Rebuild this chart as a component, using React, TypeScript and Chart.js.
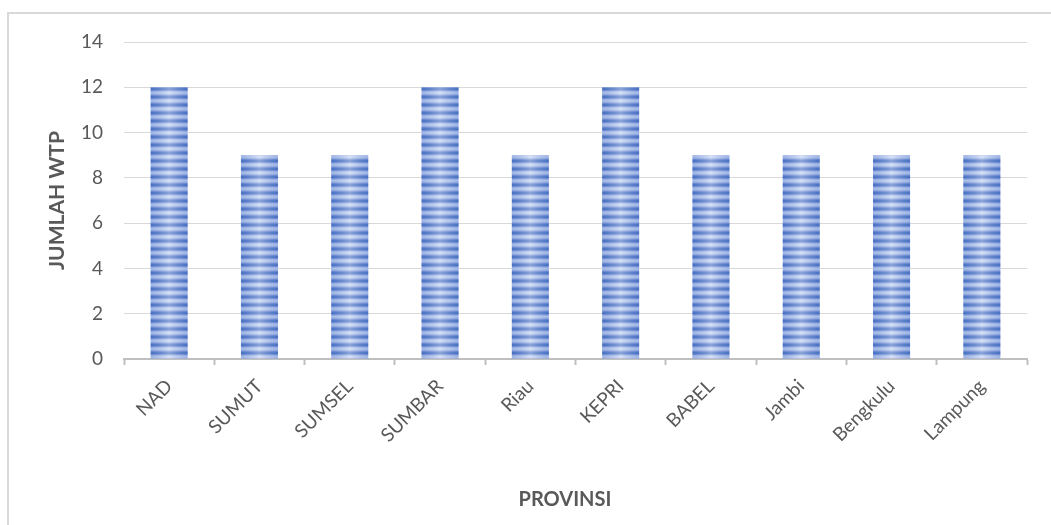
import React, { useEffect, useRef } from "react";
import { Chart, registerables } from "chart.js";

Chart.register(...registerables);

const categories = ["NAD", "SUMUT", "SUMSEL", "SUMBAR", "Riau", "KEPRI", "BABEL", "Jambi", "Bengkulu", "Lampung"];
const values = [12, 9, 9, 12, 9, 12, 9, 9, 9, 9];
const yTicks = [0, 2, 4, 6, 8, 10, 12, 14];
const xTitle = "PROVINSI";
const yTitle = "JUMLAH WTP";

const FONT = "Lato, 'Open Sans', sans-serif";
const TEXT = "#595959";

function makeStripePattern(ctx: CanvasRenderingContext2D): CanvasPattern | string {
  const c = document.createElement("canvas");
  c.width = 4;
  c.height = 8;
  const p = c.getContext("2d");
  if (!p) return "#7f9fdc";
  const rows = ["#4f76c6", "#4a72c4", "#7896d6", "#a9bdea", "#c3d2f2", "#bccbef", "#9fb5e6", "#6f8fd2"];
  rows.forEach((col, i) => {
    p.fillStyle = col;
    p.fillRect(0, i, 4, 1);
  });
  return ctx.createPattern(c, "repeat") || "#7f9fdc";
}

const barShine = {
  id: "barShine",
  afterDatasetsDraw(chart: any) {
    const ctx = chart.ctx;
    const meta = chart.getDatasetMeta(0);
    meta.data.forEach((el: any) => {
      const { x, y, base, width } = el.getProps(["x", "y", "base", "width"], true);
      const l = x - width / 2;
      const g = ctx.createLinearGradient(l, 0, l + width, 0);
      g.addColorStop(0, "rgba(60,100,190,0.25)");
      g.addColorStop(0.5, "rgba(255,255,255,0.35)");
      g.addColorStop(1, "rgba(60,100,190,0.25)");
      ctx.save();
      ctx.fillStyle = g;
      ctx.fillRect(l, y, width, base - y);
      ctx.restore();
    });
  },
};

const frame = {
  id: "frame",
  beforeDraw(chart: any) {
    const ctx = chart.ctx;
    ctx.save();
    ctx.fillStyle = "#ffffff";
    ctx.fillRect(0, 0, chart.width, chart.height);
    ctx.strokeStyle = "#d9d9d9";
    ctx.lineWidth = 2;
    ctx.beginPath();
    ctx.moveTo(8, chart.height + 2);
    ctx.lineTo(8, 13);
    ctx.lineTo(chart.width + 2, 13);
    ctx.stroke();
    ctx.restore();
  },
  afterDraw(chart: any) {
    const ctx = chart.ctx;
    ctx.save();
    ctx.fillStyle = TEXT;
    ctx.font = `bold 20px ${FONT}`;
    ctx.textAlign = "center";
    ctx.textBaseline = "middle";
    ctx.fillText(xTitle, 565, 500);
    ctx.restore();
  },
};

export default function App() {
  const ref = useRef<HTMLCanvasElement>(null);
  useEffect(() => {
    const canvas = ref.current;
    if (!canvas) return;
    const ctx = canvas.getContext("2d")!;
    const pattern = makeStripePattern(ctx);
    const chart = new Chart(canvas, {
      type: "bar",
      data: {
        labels: categories,
        datasets: [
          {
            data: values,
            backgroundColor: pattern as any,
            borderWidth: 0,
            barPercentage: 0.41,
            categoryPercentage: 1,
          },
        ],
      },
      options: {
        responsive: false,
        animation: false,
        devicePixelRatio: 1,
        layout: { padding: { top: 42, right: 24, left: 0, bottom: 0 } },
        plugins: {
          legend: { display: false },
          tooltip: { enabled: false },
        },
        scales: {
          x: {
            afterFit: (s: any) => {
              s.height = 166;
            },
            grid: {
              display: true,
              drawOnChartArea: false,
              drawTicks: true,
              tickLength: 6,
              tickColor: "#bfbfbf",
              tickWidth: 2,
              offset: true,
            },
            border: { display: true, color: "#bfbfbf", width: 2 },
            ticks: {
              color: TEXT,
              font: { family: FONT, size: 19 },
              minRotation: 45,
              maxRotation: 45,
              padding: 10,
            },
            title: { display: false },
          },
          y: {
            min: 0,
            max: 14,
            afterFit: (s: any) => {
              s.width = 124;
            },
            afterBuildTicks: (s: any) => {
              s.ticks = yTicks.map((v) => ({ value: v }));
            },
            grid: { color: "#d9d9d9", lineWidth: 1, drawTicks: false },
            border: { display: false },
            ticks: {
              color: TEXT,
              font: { family: FONT, size: 19 },
              padding: 21,
            },
            title: {
              display: true,
              text: yTitle,
              color: TEXT,
              font: { family: FONT, size: 21, weight: "bold" },
              padding: { top: 45, bottom: 0 },
            },
          },
        },
      },
      plugins: [frame, barShine],
    });
    return () => chart.destroy();
  }, []);
  return (
    <div style={{ position: "fixed", left: 0, top: 0, width: 1051, height: 525 }}>
      <canvas ref={ref} width={1051} height={525} style={{ display: "block" }} />
    </div>
  );
}
